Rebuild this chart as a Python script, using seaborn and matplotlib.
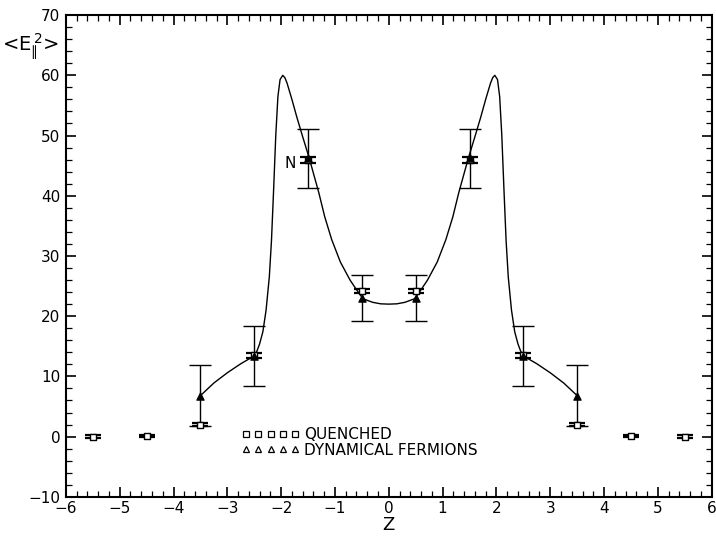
import numpy as np
import pandas as pd
import matplotlib
matplotlib.use("Agg")
import matplotlib.pyplot as plt
from matplotlib.lines import Line2D
from matplotlib.ticker import MultipleLocator
import seaborn as sns

# ---- data ----
z_q = [-5.5, -4.5, -3.5, -2.5, -1.5, -0.5, 0.5, 1.5, 2.5, 3.5, 4.5, 5.5]
e_q = [0.0, 0.1, 2.0, 13.5, 46.0, 24.2, 24.2, 46.0, 13.5, 2.0, 0.1, 0.0]
err_q = [0.2, 0.2, 0.3, 0.4, 0.5, 0.35, 0.35, 0.5, 0.4, 0.3, 0.2, 0.2]

z_d = [-3.5, -2.5, -1.5, -0.5, 0.5, 1.5, 2.5, 3.5]
e_d = [6.8, 13.4, 46.2, 23.0, 23.0, 46.2, 13.4, 6.8]
err_d = [5.1, 5.0, 4.9, 3.85, 3.85, 4.9, 5.0, 5.1]

# fitted curve
curve_z = [-3.5, -3.25, -3.0, -2.75, -2.5, -2.45, -2.4, -2.34, -2.28, -2.22, -2.18,
           -2.14, -2.1, -2.06, -2.02, -1.97, -1.93, -1.89, -1.8, -1.71, -1.6, -1.48,
           -1.3, -1.19, -1.06, -0.9, -0.72, -0.6, -0.48, -0.3, -0.15, 0.0,
           0.15, 0.3, 0.48, 0.6, 0.72, 0.9, 1.06, 1.19, 1.3, 1.48, 1.6, 1.71,
           1.8, 1.89, 1.93, 1.97, 2.02, 2.06, 2.1, 2.14, 2.18, 2.22, 2.28, 2.34, 2.4,
           2.45, 2.5, 2.75, 3.0, 3.25, 3.5]
curve_e = [6.8, 8.9, 10.6, 12.1, 13.4, 14.2, 15.4, 17.4, 21.0, 26.5, 32.5,
           41.0, 50.0, 56.5, 59.3, 60.0, 59.6, 58.7, 56.0, 53.1, 49.8, 46.3,
           40.5, 36.5, 32.7, 29.0, 26.0, 24.4, 22.9, 22.3, 22.05, 22.0,
           22.05, 22.3, 22.9, 24.4, 26.0, 29.0, 32.7, 36.5, 40.5, 46.3, 49.8, 53.1,
           56.0, 58.7, 59.6, 60.0, 59.3, 56.5, 50.0, 41.0, 32.5, 26.5, 21.0, 17.4, 15.4,
           14.2, 13.4, 12.1, 10.6, 8.9, 6.8]

x_ticks = [-6, -5, -4, -3, -2, -1, 0, 1, 2, 3, 4, 5, 6]
y_ticks = [-10, 0, 10, 20, 30, 40, 50, 60, 70]

df_q = pd.DataFrame({"z": z_q, "e": e_q, "err": err_q})
df_d = pd.DataFrame({"z": z_d, "e": e_d, "err": err_d})
df_c = pd.DataFrame({"z": curve_z, "e": curve_e})

sns.set_theme(style="white")
plt.rcParams["font.family"] = ["DejaVu Sans"]
plt.rcParams["mathtext.fontset"] = "dejavusans"
plt.rcParams["text.color"] = "black"
plt.rcParams["axes.labelcolor"] = "black"

fig = plt.figure(figsize=(7.16, 5.4), dpi=100)
ax = fig.add_axes([0.092, 0.080, 0.902, 0.892])

sns.lineplot(data=df_c, x="z", y="e", sort=False, color="black", lw=1.0,
             ax=ax, legend=False)

# error bars
ax.errorbar(df_d["z"], df_d["e"], yerr=df_d["err"], fmt="none", ecolor="black",
            elinewidth=1.0, capsize=8, capthick=1.0)
ax.errorbar(df_q["z"], df_q["e"], yerr=df_q["err"], fmt="none", ecolor="black",
            elinewidth=1.0, capsize=6, capthick=1.6)

sns.scatterplot(data=df_q, x="z", y="e", marker="s", s=20, facecolor="white",
                edgecolor="black", linewidth=1.0, ax=ax, zorder=5)
sns.scatterplot(data=df_d, x="z", y="e", marker="^", s=28, color="black",
                edgecolor="black", linewidth=0.8, ax=ax, zorder=6)

ax.set_xlim(-6, 6)
ax.set_ylim(-10, 70)
ax.set_xticks(x_ticks)
ax.set_yticks(y_ticks)
ax.xaxis.set_minor_locator(MultipleLocator(0.2))
ax.yaxis.set_minor_locator(MultipleLocator(2))
ax.tick_params(which="both", direction="in", top=True, right=True,
               bottom=True, left=True, colors="black", labelsize=11)
ax.tick_params(which="major", length=7, width=1.2)
ax.tick_params(which="minor", length=4, width=0.9)
ax.tick_params(axis="x", pad=3)
ax.tick_params(axis="y", pad=4)
for s in ax.spines.values():
    s.set_color("black")
    s.set_linewidth(1.5)

ax.set_xlabel("Z", fontsize=13, labelpad=0, color="black")
ax.set_ylabel("")
ax.text(-0.012, 0.935, "<E$_{\u2225}^{\\,2}$>", transform=ax.transAxes,
        ha="right", va="center", fontsize=14, color="black")
ax.text(-1.84, 45.4, "N", fontsize=11, ha="center", va="center", color="black")

handles = [Line2D([], [], marker="s", ls="none", mfc="white", mec="black",
                  ms=5, mew=0.9),
           Line2D([], [], marker="^", ls="none", mfc="white", mec="black",
                  ms=5, mew=0.9)]
leg = ax.legend(handles, ["QUENCHED", "DYNAMICAL FERMIONS"], numpoints=5,
                handlelength=3.8, handletextpad=0.3, labelspacing=0.05,
                borderpad=0, borderaxespad=0, frameon=False, fontsize=11,
                loc="center left", bbox_to_anchor=(0.272, 0.113))
for t in leg.get_texts():
    t.set_color("black")

fig.savefig("out.png", dpi=100, facecolor="white")
